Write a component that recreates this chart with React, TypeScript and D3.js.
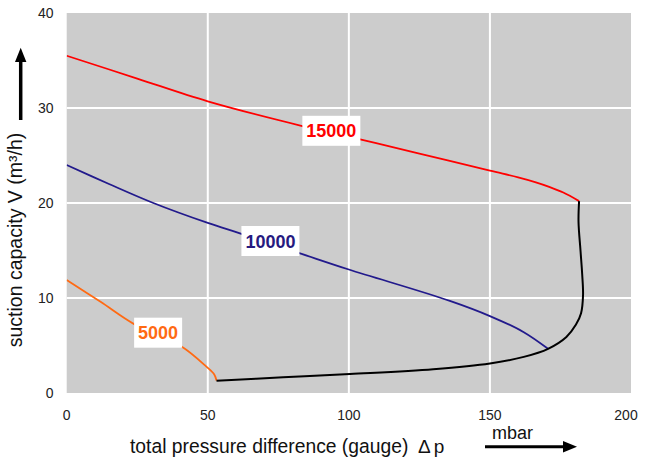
import React from "react";
import * as d3 from "d3";

const xTicks = [0, 50, 100, 150, 200];
const yTicks = [0, 10, 20, 30, 40];

const series15000X = [0, 25, 50, 83.5, 104, 125, 150, 160, 166, 171, 176, 181.6];
const series15000Y = [35.5, 33.1, 30.7, 28.1, 26.7, 25.2, 23.4, 22.7, 22.2, 21.7, 21.1, 20.2];

const series10000X = [0, 15, 30.7, 50, 61.4, 82.7, 100, 135.8, 150, 162, 170.6];
const series10000Y = [24.0, 22.0, 20.0, 17.9, 16.8, 14.7, 13.0, 9.7, 8.1, 6.4, 4.65];

const series5000X = [0, 12, 24.2, 40.7, 49.6, 52.3, 53.1];
const series5000Y = [11.9, 9.6, 7.2, 4.9, 2.75, 1.95, 1.3];

const limitX = [53.1, 76.7, 100.4, 129.9, 150, 162, 170.6, 177.1, 180.5, 182.3, 183.0, 182.7, 182.1, 181.4, 181.6];
const limitY = [1.3, 1.65, 2.0, 2.5, 3.1, 3.8, 4.65, 5.9, 7.2, 8.4, 10.3, 12.5, 15.0, 18.0, 20.2];

const labelNames = ["5000", "10000", "15000"];
const labelX = [32.4, 72.2, 93.8];
const labelY = [6.35, 16.0, 27.6];
const labelColors = ["#ff6a13", "#261a80", "#ff0000"];

const W = 655;
const H = 463;
const FONT = "'Liberation Sans', Arial, sans-serif";

export default function App() {
  const x = d3.scaleLinear().domain([0, 200]).range([66.7, 631]);
  const y = d3.scaleLinear().domain([0, 40]).range([393, 13]);

  const line = d3
    .line<[number, number]>()
    .x((d) => x(d[0]))
    .y((d) => y(d[1]))
    .curve(d3.curveCatmullRom.alpha(0.5));

  const zip = (a: number[], b: number[]) => a.map((v, i) => [v, b[i]] as [number, number]);

  const curves = [
    { pts: zip(series5000X, series5000Y), color: "#ff6a13", w: 1.8 },
    { pts: zip(series10000X, series10000Y), color: "#221a8c", w: 1.8 },
    { pts: zip(series15000X, series15000Y), color: "#ff0000", w: 1.8 },
    { pts: zip(limitX, limitY), color: "#000000", w: 2 },
  ];

  return (
    <svg
      width={W}
      height={H}
      style={{ position: "absolute", left: 0, top: 0, background: "#fff" }}
      fontFamily={FONT}
    >
      <defs>
        <clipPath id="plot">
          <rect x={x(0)} y={y(40)} width={x(200) - x(0)} height={y(0) - y(40)} />
        </clipPath>
      </defs>
      <rect x={x(0)} y={y(40)} width={x(200) - x(0)} height={y(0) - y(40)} fill="#cccccc" />
      {xTicks.slice(1, -1).map((t) => (
        <line key={"gx" + t} x1={x(t)} x2={x(t)} y1={y(0)} y2={y(40)} stroke="#fff" strokeWidth={2} />
      ))}
      {yTicks.slice(1, -1).map((t) => (
        <line key={"gy" + t} x1={x(0)} x2={x(200)} y1={y(t)} y2={y(t)} stroke="#fff" strokeWidth={2} />
      ))}
      <g clipPath="url(#plot)">
        {curves.map((c, i) => (
          <path key={i} d={line(c.pts) || ""} fill="none" stroke={c.color} strokeWidth={c.w} strokeLinejoin="round" />
        ))}
      </g>
      {labelNames.map((n, i) => {
        const bw = n.length * 10 + 8;
        const bh = 30;
        return (
          <g key={n}>
            <rect x={x(labelX[i]) - bw / 2} y={y(labelY[i]) - bh / 2} width={bw} height={bh} fill="#fff" />
            <text
              x={x(labelX[i])}
              y={y(labelY[i]) + 6.5}
              textAnchor="middle"
              fontSize={18}
              fontWeight="bold"
              fill={labelColors[i]}
            >
              {n}
            </text>
          </g>
        );
      })}
      {xTicks.map((t, i) => (
        <text
          key={"xt" + t}
          x={x(t) - (i === xTicks.length - 1 ? 5 : 0)}
          y={419.5}
          textAnchor="middle"
          fontSize={14}
          fill="#222"
        >
          {t}
        </text>
      ))}
      {yTicks.map((t) => (
        <text key={"yt" + t} x={53.5} y={y(t) + 5.2} textAnchor="end" fontSize={14} fill="#222">
          {t}
        </text>
      ))}
      <text
        transform={`translate(22,240) rotate(-90)`}
        textAnchor="middle"
        fontSize={19.5}
        fill="#111"
      >
        suction capacity V (m³/h)
      </text>
      <text x={130} y={453} fontSize={19.3} fill="#111">
        total pressure difference (gauge)
      </text>
      <text x={418} y={453} fontSize={19} fill="#111" letterSpacing={3}>
        Δp
      </text>
      <text x={492} y={439} fontSize={18} fill="#111">
        mbar
      </text>
      {/* x arrow */}
      <line x1={485} x2={566} y1={446.7} y2={446.7} stroke="#000" strokeWidth={3} />
      <path d="M563,441 L577,446.7 L563,452.4 Z" fill="#000" />
      {/* y arrow */}
      <line x1={20.7} x2={20.7} y1={120} y2={58} stroke="#000" strokeWidth={3.5} />
      <path d="M15,62 L20.7,47.7 L26.4,62 Z" fill="#000" />
    </svg>
  );
}
